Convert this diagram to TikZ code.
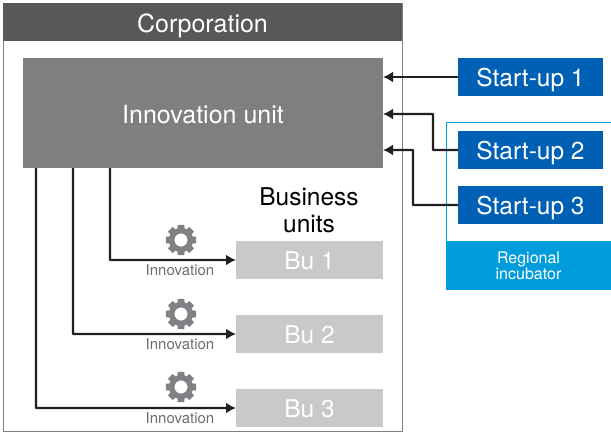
\documentclass[tikz,border=0pt]{standalone}
\usepackage{fontspec}
\setmainfont{TeX Gyre Heros}
\usetikzlibrary{arrows.meta,calc}
\definecolor{corpdark}{HTML}{58585A}
\definecolor{unitgray}{HTML}{7E7F81}
\definecolor{bugray}{HTML}{C8C9CB}
\definecolor{gearcol}{HTML}{808184}
\definecolor{supblue}{HTML}{0060B4}
\definecolor{incblue}{HTML}{009CDC}
\definecolor{arrowk}{HTML}{231F20}
\newcommand{\dn}[2]{\raisebox{-#1pt}[10pt][10pt]{#2}}
\tikzset{
  box/.style={draw=none,anchor=north west,inner sep=0pt,outer sep=0pt,align=center,text=white},
  conn/.style={draw=arrowk,line width=2.2pt,-{Latex[length=10pt,width=11pt]},rounded corners=0.5pt},
  sup/.style={box,fill=supblue,minimum width=145pt,minimum height=38pt,font=\fontsize{24.5}{26}\selectfont},
  bu/.style={box,fill=bugray,minimum width=147pt,minimum height=38pt,font=\fontsize{24.5}{26}\selectfont},
  innolabel/.style={inner sep=0pt,text=gearcol!85!black,font=\fontsize{15}{16}\selectfont}
}
\newcommand{\gearat}[2]{%
  \begin{scope}[shift={(#1,#2)}]
    \fill[gearcol,even odd rule] (0,0) circle[radius=12] (0,0) circle[radius=6.6];
    \foreach \k in {0,45,...,315}{
      \fill[gearcol] (\k-20:11) -- (\k-12:15.5) -- (\k+12:15.5) -- (\k+20:11) -- cycle;
    }
  \end{scope}%
}
\begin{document}
\begin{tikzpicture}[x=1pt,y=-1pt]
\useasboundingbox (0,0) rectangle (611,445);
\fill[white] (0,0) rectangle (611,445);
% corporation
\node[box,draw=unitgray,line width=1pt,minimum width=399pt,minimum height=428pt] (corp) at (3,3) {};
\node[box,fill=corpdark,minimum width=399pt,minimum height=38pt,font=\fontsize{25}{27}\selectfont] (title) at (3,3) {\dn{10}{Corporation}};
\node[box,fill=unitgray,minimum width=360pt,minimum height=110pt,font=\fontsize{25}{27}\selectfont] (iu) at (23,58) {\dn{10}{Innovation unit}};
% incubator
\node[box,draw=incblue,line width=1pt,minimum width=165pt,minimum height=119pt] (incframe) at (446,122) {};
\node[box,fill=incblue,minimum width=165pt,minimum height=49pt,font=\fontsize{16}{16}\selectfont] (inc) at (446,241) {Regional\\incubator};
% start-ups
\node[sup] (s1) at (458,58) {\dn{9}{Start-up 1}};
\node[sup] (s2) at (458,131) {\dn{9}{Start-up 2}};
\node[sup] (s3) at (458,186) {\dn{9}{Start-up 3}};
% business units
\node[inner sep=0pt,align=center,font=\fontsize{24.5}{27}\selectfont] (bulabel) at (309,210) {Business\\units};
\node[bu] (b1) at (236,241) {\dn{9.5}{Bu 1}};
\node[bu] (b2) at (236,315) {\dn{9.5}{Bu 2}};
\node[bu] (b3) at (236,389) {\dn{9.5}{Bu 3}};
% connector points
\coordinate (t2) at (383,114);
\coordinate (t3) at (383,150);
\coordinate (m2) at (433,114);
\coordinate (m3) at (413,150);
\coordinate (o1) at (110,168);
\coordinate (o2) at (73,168);
\coordinate (o3) at (36,168);
% connectors
\draw[conn] (s1.west) -- (s1.west -| iu.east);
\draw[conn] (s2.west) -| (m2) -- (t2);
\draw[conn] (s3.west) -| (m3) -- (t3);
\draw[conn] (o1) |- (b1.west);
\draw[conn] (o2) |- (b2.west);
\draw[conn] (o3) |- (b3.west);
% gears
\gearat{181}{240}
\gearat{181}{314}
\gearat{181}{387}
\node[innolabel] (i1) at (180,270) {Innovation};
\node[innolabel] (i2) at (180,344) {Innovation};
\node[innolabel] (i3) at (180,418) {Innovation};
\end{tikzpicture}
\end{document}
